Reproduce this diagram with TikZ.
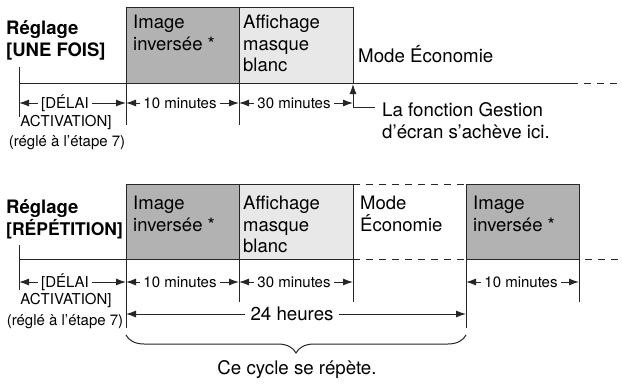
\documentclass[tikz,border=0pt]{standalone}
\usepackage{fontspec}
\setmainfont{TeX Gyre Heros}
\usetikzlibrary{arrows.meta,decorations.pathreplacing,positioning}

\tikzset{
	trait/.style={line width=1pt, draw=black!85},
	sombre/.style={trait, fill=black!30},
	clair/.style={trait, fill=black!9},
	pointille/.style={trait, dash pattern=on 7pt off 6pt},
	cote/.style={trait, ->, >={Latex[length=10pt,width=7pt]}},
	boite/.style={anchor=north west, align=left, inner sep=0pt, font=\fontsize{18.5}{21.5}\selectfont},
	titre/.style={anchor=north west, align=left, inner sep=0pt, font=\bfseries\fontsize{18.5}{22}\selectfont},
	petit/.style={inner sep=3pt, font=\fontsize{15}{18}\selectfont},
	texte/.style={inner sep=0pt, font=\fontsize{18.7}{21.5}\selectfont},
}

\begin{document}
\begin{tikzpicture}[x=1pt, y=-1pt]
	\useasboundingbox (0,0) rectangle (622,384);
	% reglage une fois
	\node[titre] (titre1) at (6,20) {Réglage\\{}[UNE FOIS]};
	\filldraw[sombre] (126,7) rectangle (239,83);
	\filldraw[clair] (239,7) rectangle (353,83);
	\node[boite] (inv1) at (133,15) {Image\\inversée *};
	\node[boite] (aff1) at (243,15) {Affichage\\masque\\blanc};
	\node[texte, anchor=base west] (eco1) at (358,62) {Mode Économie};
	\draw[trait] (19,83) -- (578,83);
	\draw[pointille, dash phase=7pt] (578,83) -- (622,83);
	\draw[trait] (19,67) -- (19,117);
	\draw[trait] (126,83) -- (126,125);
	\draw[trait] (239,83) -- (239,125);
	\coordinate (t0) at (19,103);
	\coordinate (t1) at (126,103);
	\coordinate (t2) at (239,103);
	\coordinate (t3) at (353,103);
	\coordinate (fin1) at (353,84);
	\node[petit] (delai1) at (65,103) {[DÉLAI};
	\node[petit] (act1) at (66,122) {ACTIVATION]};
	\node[petit] (regle1) at (67,143) {(réglé à l’étape 7)};
	\node[petit] (dix1) at (180,103) {10 minutes};
	\node[petit] (trente1) at (294,103) {30 minutes};
	\draw[cote] (delai1) -- (t0);
	\draw[cote] (delai1) -- (t1);
	\draw[cote] (dix1) -- (t1);
	\draw[cote] (dix1) -- (t2);
	\draw[cote] (trente1) -- (t2);
	\draw[cote] (trente1) -- (t3);
	% fin de la gestion d'ecran
	\node[texte, anchor=base west, inner xsep=7pt] (gest1) at (375,116) {La fonction Gestion};
	\node[texte, anchor=base west] (gest2) at (382,138) {d’écran s’achève ici.};
	\draw[cote] ([yshift=2pt]gest1.west) -| (fin1);

	% reglage repetition
	\node[titre] (titre2) at (6,199) {Réglage\\{}{\fontsize{17.5}{22}\selectfont[RÉPÉTITION]}};
	\filldraw[sombre] (126,184) rectangle (239,259);
	\filldraw[clair] (239,184) rectangle (353,259);
	\filldraw[sombre] (466,184) rectangle (579,259);
	\draw[pointille] (353,184) -- (466,184);
	\draw[pointille] (353,259) -- (466,259);
	\node[boite] (inv2) at (133,196) {Image\\inversée *};
	\node[boite] (aff2) at (243,196) {Affichage\\masque\\blanc};
	\node[boite] (eco2) at (360,196) {Mode\\Économie};
	\node[boite] (inv3) at (473,196) {Image\\inversée *};
	\draw[trait] (19,259) -- (353,259);
	\draw[pointille, dash phase=7pt] (579,259) -- (622,259);
	\draw[trait] (19,245) -- (19,290);
	\draw[trait] (126,259) -- (126,328);
	\draw[trait] (239,259) -- (239,302);
	\draw[trait] (353,259) -- (353,302);
	\draw[trait] (466,259) -- (466,328);
	\draw[trait] (579,259) -- (579,302);
	\coordinate (u0) at (19,282);
	\coordinate (u1) at (126,282);
	\coordinate (u2) at (239,282);
	\coordinate (u3) at (353,282);
	\coordinate (u4) at (466,282);
	\coordinate (u5) at (579,282);
	\node[petit] (delai2) at (65,282) {[DÉLAI};
	\node[petit] (act2) at (66,300) {ACTIVATION]};
	\node[petit] (regle2) at (65,322) {(réglé à l’étape 7)};
	\node[petit] (dix2) at (180,282) {10 minutes};
	\node[petit] (trente2) at (294,282) {30 minutes};
	\node[petit] (dix3) at (521,282) {10 minutes};
	\draw[cote] (delai2) -- (u0);
	\draw[cote] (delai2) -- (u1);
	\draw[cote] (dix2) -- (u1);
	\draw[cote] (dix2) -- (u2);
	\draw[cote] (trente2) -- (u2);
	\draw[cote] (trente2) -- (u3);
	\draw[cote] (dix3) -- (u4);
	\draw[cote] (dix3) -- (u5);
	% cycle de 24 heures
	\coordinate (h0) at (126,314);
	\coordinate (h1) at (466,314);
	\node[texte, inner xsep=5pt] (heures) at (292,314) {24 heures};
	\draw[cote] (heures) -- (h0);
	\draw[cote] (heures) -- (h1);
	\draw[trait, decorate, decoration={brace, amplitude=18pt, mirror}] (126,335) -- (466,335);
	\node[texte] (cycle) at (297,370) {Ce cycle se répète.};
\end{tikzpicture}
\end{document}
